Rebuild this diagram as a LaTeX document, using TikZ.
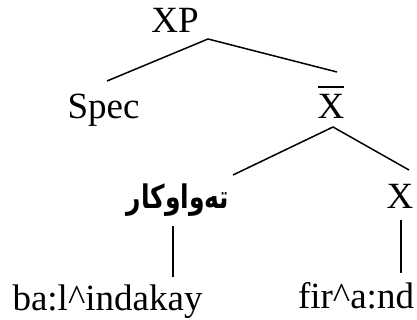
\documentclass[tikz,border=0pt]{standalone}
\usepackage{graphicx}
\usepackage{fontspec}
\setmainfont{Liberation Serif}
\newfontfamily\arabicfont[Script=Arabic]{DejaVu Sans}
\TeXXeTstate=1
\begin{document}
\begin{tikzpicture}[x=1pt,y=-1pt,
  lbl/.style={anchor=base,inner sep=0pt,font=\fontsize{37}{40}\selectfont},
  edge/.style={line width=1.5pt}]
\useasboundingbox (0,0) rectangle (417,320);
\node[lbl] (xp) at (175,33) {XP};
\node[lbl] (spec) at (103.5,119) {Spec};
\node[lbl] (xbar) at (331,119) {\vbox{\hrule height 1.5pt\kern 7pt\hbox{X}}};
\node[anchor=base,inner sep=0pt,font=\arabicfont\bfseries\fontsize{25}{30}\selectfont] (comp) at (178,209) {\scalebox{1}[1.3]{\beginR تەواوکار\endR}};
\node[lbl] (x) at (400,208) {X};
\node[lbl] (ba) at (107.5,310) {ba:l\textasciicircum indakay};
\node[lbl] (fir) at (356,308) {fir\textasciicircum a:nd};
\coordinate (xpA) at (208,39);
\coordinate (specT) at (107,81);
\coordinate (xbarT) at (337,72);
\coordinate (xbarA) at (333,127);
\coordinate (compT) at (233,175);
\coordinate (xT) at (409,170);
\coordinate (compB) at (173,226);
\coordinate (baT) at (173,277);
\coordinate (xB) at (401,220);
\coordinate (firT) at (401,273);
\draw[edge] (specT) -- (xpA) -- (xbarT);
\draw[edge] (compT) -- (xbarA) -- (xT);
\draw[edge] (compB) -- (baT);
\draw[edge] (xB) -- (firT);
\end{tikzpicture}
\end{document}
